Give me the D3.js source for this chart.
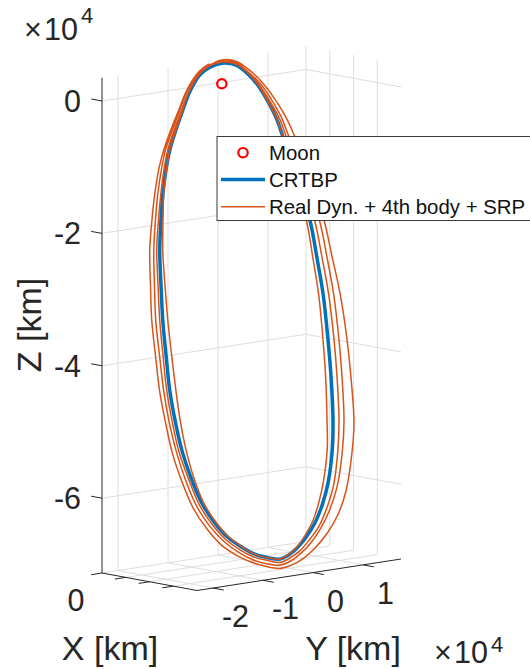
<!DOCTYPE html>
<html>
<head>
<meta charset="utf-8">
<script src="https://cdn.jsdelivr.net/npm/d3@7"></script>
<style>
  body { margin: 0; background: #ffffff; }
  svg { display: block; }
  text { font-family: "Liberation Sans", Arial, Helvetica, sans-serif; }
</style>
</head>
<body>
<svg id="chart" width="530" height="669"></svg>
<script>
// ---- Axis limits and ticks (all coordinates in units of 10^4 km) ----
const xLimits = [0, 2];
const yLimits = [-2.32, 1.76];
const zLimits = [-7.13, 0.35];
const xTicks = [0, 0.5, 1, 1.5];
const xTickLabels = ["0", "", "", ""];
const yTicks = [-2, -1, 0, 1];
const yTickLabels = ["-2", "-1", "0", "1"];
const zTicks = [-6, -4, -2, 0];
const zTickLabels = ["-6", "-4", "-2", "0"];

// ---- Moon position ----
const moonX = [0.08];
const moonY = [0];
const moonZ = [0];

// ---- CRTBP halo orbit (one closed revolution) ----
const crtbpX = [0, 0, 0.05, 0.1, 0.2, 0.3, 0.4, 0.5, 0.6, 0.7, 0.8, 0.9, 1.0, 1.1, 1.2, 1.3,
  1.4, 1.5, 1.6, 1.7, 1.8, 1.9, 2.0, 2.0, 1.9, 1.8, 1.7, 1.6, 1.5, 1.4, 1.3, 1.2, 1.1, 1.0,
  0.9, 0.8, 0.7, 0.6, 0.5, 0.4, 0.3, 0.2, 0.15, 0.1, 0.05, 0];
const crtbpY = [0.08, 0.36, 0.55, 0.71, 0.79, 0.88, 0.92, 1.01, 1.09, 1.18, 1.22, 1.25, 1.25,
  1.22, 1.16, 1.05, 0.87, 0.66, 0.42, 0.15, -0.13, -0.39, -0.66, -0.90, -1.07, -1.23, -1.42,
  -1.60, -1.75, -1.87, -1.96, -2.00, -2.01, -1.99, -1.96, -1.90, -1.83, -1.71, -1.58, -1.42,
  -1.25, -1.05, -0.88, -0.66, -0.41, -0.16];
const crtbpZ = [0.29, 0.23, 0.08, -0.11, -0.32, -0.59, -0.87, -1.29, -1.71, -2.14, -2.68,
  -3.23, -3.89, -4.48, -5.07, -5.49, -5.96, -6.25, -6.48, -6.65, -6.77, -6.83, -6.85, -6.80,
  -6.74, -6.63, -6.47, -6.23, -5.94, -5.56, -5.14, -4.70, -4.26, -3.74, -3.23, -2.72, -2.22,
  -1.79, -1.44, -1.09, -0.83, -0.60, -0.36, -0.04, 0.18, 0.26];

// ---- Real dynamics + 4th body + SRP (four consecutive revolutions) ----
const realRevX = [0, 0, 0.05, 0.1, 0.2, 0.3, 0.4, 0.5, 0.6, 0.7, 0.8, 0.9, 1.0, 1.1, 1.2, 1.3,
  1.4, 1.5, 1.6, 1.7, 1.8, 1.9, 2.0, 2.0, 1.9, 1.8, 1.7, 1.6, 1.5, 1.4, 1.3, 1.2, 1.1, 1.0,
  0.9, 0.8, 0.7, 0.6, 0.5, 0.4, 0.3, 0.2, 0.15, 0.1, 0.05, 0];
const real1Y = [0.08, 0.37, 0.56, 0.72, 0.79, 0.88, 0.92, 0.98, 1.03, 1.11, 1.14, 1.16, 1.15,
  1.11, 1.04, 0.95, 0.78, 0.59, 0.38, 0.13, -0.14, -0.39, -0.66, -0.90, -1.07, -1.23, -1.41,
  -1.58, -1.72, -1.82, -1.88, -1.90, -1.89, -1.88, -1.86, -1.82, -1.77, -1.67, -1.56, -1.41,
  -1.25, -1.05, -0.88, -0.67, -0.42, -0.17];
const real1Z = [0.31, 0.25, 0.09, -0.11, -0.32, -0.59, -0.87, -1.29, -1.72, -2.14, -2.68,
  -3.22, -3.88, -4.46, -5.05, -5.46, -5.92, -6.21, -6.44, -6.62, -6.76, -6.82, -6.85, -6.80,
  -6.74, -6.62, -6.46, -6.22, -5.93, -5.55, -5.13, -4.70, -4.26, -3.74, -3.24, -2.73, -2.23,
  -1.80, -1.44, -1.09, -0.83, -0.60, -0.36, -0.03, 0.19, 0.28];
const real2Y = [0.08, 0.37, 0.56, 0.73, 0.82, 0.93, 0.98, 1.08, 1.17, 1.27, 1.32, 1.36, 1.37,
  1.34, 1.28, 1.16, 0.98, 0.75, 0.50, 0.20, -0.09, -0.37, -0.66, -0.91, -1.09, -1.26, -1.46,
  -1.65, -1.80, -1.92, -2.02, -2.06, -2.07, -2.05, -2.02, -1.96, -1.89, -1.76, -1.62, -1.46,
  -1.29, -1.08, -0.90, -0.67, -0.42, -0.17];
const real2Z = [0.31, 0.24, 0.09, -0.10, -0.31, -0.58, -0.86, -1.28, -1.70, -2.14, -2.68,
  -3.24, -3.90, -4.50, -5.09, -5.53, -6.01, -6.31, -6.54, -6.71, -6.83, -6.88, -6.90, -6.84,
  -6.78, -6.67, -6.50, -6.25, -5.96, -5.57, -5.15, -4.70, -4.26, -3.74, -3.23, -2.71, -2.21,
  -1.78, -1.43, -1.08, -0.82, -0.59, -0.35, -0.03, 0.19, 0.28];
const real3Y = [0.08, 0.37, 0.57, 0.76, 0.86, 0.97, 1.03, 1.14, 1.24, 1.36, 1.42, 1.46, 1.47,
  1.44, 1.38, 1.25, 1.05, 0.81, 0.54, 0.24, -0.07, -0.36, -0.66, -0.92, -1.11, -1.28, -1.49,
  -1.69, -1.85, -1.98, -2.07, -2.12, -2.13, -2.12, -2.10, -2.03, -1.95, -1.82, -1.68, -1.51,
  -1.33, -1.11, -0.93, -0.70, -0.43, -0.17];
const real3Z = [0.32, 0.26, 0.10, -0.09, -0.30, -0.57, -0.86, -1.27, -1.69, -2.13, -2.69,
  -3.25, -3.92, -4.51, -5.11, -5.55, -6.04, -6.34, -6.57, -6.75, -6.87, -6.93, -6.94, -6.89,
  -6.82, -6.71, -6.53, -6.28, -5.98, -5.58, -5.15, -4.70, -4.26, -3.73, -3.22, -2.71, -2.21,
  -1.77, -1.42, -1.07, -0.80, -0.57, -0.33, -0.01, 0.21, 0.29];
const real4Y = [0.08, 0.38, 0.60, 0.79, 0.91, 1.04, 1.13, 1.24, 1.34, 1.45, 1.52, 1.59, 1.63,
  1.62, 1.58, 1.44, 1.23, 0.97, 0.66, 0.32, -0.02, -0.34, -0.66, -0.93, -1.12, -1.32, -1.54,
  -1.75, -1.92, -2.05, -2.15, -2.19, -2.21, -2.20, -2.18, -2.11, -2.03, -1.89, -1.74, -1.56,
  -1.36, -1.14, -0.95, -0.71, -0.44, -0.18];
const real4Z = [0.34, 0.28, 0.12, -0.07, -0.28, -0.55, -0.84, -1.26, -1.68, -2.13, -2.69,
  -3.26, -3.93, -4.54, -5.15, -5.61, -6.12, -6.44, -6.67, -6.84, -6.95, -6.99, -6.99, -6.93,
  -6.86, -6.75, -6.58, -6.31, -6.00, -5.60, -5.16, -4.71, -4.26, -3.73, -3.21, -2.70, -2.20,
  -1.76, -1.41, -1.05, -0.79, -0.56, -0.32, 0.00, 0.22, 0.31];

const legendLabels = ["Moon", "CRTBP", "Real Dyn. + 4th body + SRP"];

// ---- Colours ----
const axisColor = "#262626";
const gridColor = "#dedede";
const blue = "#0072BD";
const orange = "#D95319";
const moonColor = "#FF0000";

// ---- Oblique 3-D projection built on linear scales ----
const fx = d3.scaleLinear().domain(xLimits).range([0, 1]);
const fy = d3.scaleLinear().domain(yLimits).range([0, 1]);
const fz = d3.scaleLinear().domain(zLimits).range([0, 1]);
const origin = [102, 573];        // screen point of (xmin, ymin, zmin)
const edgeX = [95, 17.5];         // screen vector spanning the x range
const edgeY = [204, -31.5];       // screen vector spanning the y range
const edgeZ = [0, -495.2];        // screen vector spanning the z range

function proj(x, y, z) {
  const a = fx(x), b = fy(y), c = fz(z);
  return [origin[0] + a * edgeX[0] + b * edgeY[0] + c * edgeZ[0],
          origin[1] + a * edgeX[1] + b * edgeY[1] + c * edgeZ[1]];
}
function unit(v) { const n = Math.hypot(v[0], v[1]); return [v[0] / n, v[1] / n]; }
const ux = unit(edgeX), uy = unit(edgeY);

const svg = d3.select("#chart");
const [x0, x1] = xLimits, [y0, y1] = yLimits, [z0, z1] = zLimits;

// ---- Grid on the three back planes ----
const gridSegs = [];
yTicks.forEach(y => gridSegs.push([[x0, y, z0], [x0, y, z1]]));   // back-left wall
zTicks.forEach(z => gridSegs.push([[x0, y0, z], [x0, y1, z]]));
xTicks.forEach(x => gridSegs.push([[x, y1, z0], [x, y1, z1]]));   // back-right wall
zTicks.forEach(z => gridSegs.push([[x0, y1, z], [x1, y1, z]]));
xTicks.forEach(x => gridSegs.push([[x, y0, z0], [x, y1, z0]]));   // floor
yTicks.forEach(y => gridSegs.push([[x0, y, z0], [x1, y, z0]]));

svg.append("g").selectAll("line").data(gridSegs).join("line")
  .attr("x1", d => proj(...d[0])[0]).attr("y1", d => proj(...d[0])[1])
  .attr("x2", d => proj(...d[1])[0]).attr("y2", d => proj(...d[1])[1])
  .attr("stroke", gridColor).attr("stroke-width", 1);

// ---- Axis lines ----
const axisSegs = [
  [[x0, y0, z0], [x0, y0, z1]],
  [[x0, y0, z0], [x1, y0, z0]],
  [[x1, y0, z0], [x1, y1, z0]]
];
svg.append("g").selectAll("line").data(axisSegs).join("line")
  .attr("x1", d => proj(...d[0])[0]).attr("y1", d => proj(...d[0])[1])
  .attr("x2", d => proj(...d[1])[0]).attr("y2", d => proj(...d[1])[1])
  .attr("stroke", axisColor).attr("stroke-width", 1);

// ---- Tick marks ----
const tickLen = 11;
const tickSegs = [];
zTicks.forEach(z => { const p = proj(x0, y0, z); tickSegs.push([p, [p[0] - ux[0] * tickLen, p[1] - ux[1] * tickLen]]); });
xTicks.forEach(x => { const p = proj(x, y0, z0); tickSegs.push([p, [p[0] - uy[0] * tickLen, p[1] - uy[1] * tickLen]]); });
yTicks.forEach(y => { const p = proj(x1, y, z0); tickSegs.push([p, [p[0] + ux[0] * tickLen, p[1] + ux[1] * tickLen]]); });
svg.append("g").selectAll("line").data(tickSegs).join("line")
  .attr("x1", d => d[0][0]).attr("y1", d => d[0][1])
  .attr("x2", d => d[1][0]).attr("y2", d => d[1][1])
  .attr("stroke", axisColor).attr("stroke-width", 1);

// ---- Tick labels ----
const tickFont = 30.5;
const tl = svg.append("g").attr("fill", axisColor).attr("font-size", tickFont);
zTicks.forEach((z, i) => {
  const p = proj(x0, y0, z);
  tl.append("text").attr("x", p[0] - 21).attr("y", p[1] + 10.8)
    .attr("text-anchor", "end").text(zTickLabels[i]);
});
xTicks.forEach((x, i) => {
  if (!xTickLabels[i]) return;
  const p = proj(x, y0, z0);
  tl.append("text").attr("x", p[0] - 26).attr("y", p[1] + 38)
    .attr("text-anchor", "middle").text(xTickLabels[i]);
});
yTicks.forEach((y, i) => {
  const p = proj(x1, y, z0);
  tl.append("text").attr("x", p[0] + 22.5).attr("y", p[1] + 39)
    .attr("text-anchor", "middle").text(yTickLabels[i]);
});

// ---- Exponent markers ----
function exponent(x, y, rise) {
  const t = svg.append("text").attr("fill", axisColor).attr("font-size", tickFont).attr("y", y);
  t.append("tspan").attr("x", x).text("\u00d7");
  t.append("tspan").attr("x", x + 20).text("10");
  t.append("tspan").attr("x", x + 57).attr("dy", -rise).attr("font-size", 22).text("4");
}
exponent(24, 39.5, 17);
exponent(434, 663, 11.5);

// ---- Axis labels ----
const labelFont = 34;
svg.append("text").attr("fill", axisColor).attr("font-size", labelFont)
  .attr("text-anchor", "middle").attr("transform", "translate(41,325) rotate(-90)")
  .text("Z [km]");
svg.append("text").attr("fill", axisColor).attr("font-size", labelFont)
  .attr("text-anchor", "middle").attr("x", 110).attr("y", 660).text("X [km]");
svg.append("text").attr("fill", axisColor).attr("font-size", labelFont)
  .attr("text-anchor", "middle").attr("x", 353).attr("y", 660).text("Y [km]");

// ---- Orbits ----
const crtbpPts = crtbpX.map((x, i) => proj(x, crtbpY[i], crtbpZ[i]));
svg.append("path")
  .attr("d", d3.line().curve(d3.curveCatmullRomClosed)(crtbpPts))
  .attr("fill", "none").attr("stroke", blue).attr("stroke-width", 3.5)
  .attr("stroke-linejoin", "round");

const revs = [[real1Y, real1Z], [real2Y, real2Z], [real3Y, real3Z], [real4Y, real4Z]];
const realPts = [];
revs.forEach(([ys, zs]) => realRevX.forEach((x, i) => realPts.push(proj(x, ys[i], zs[i]))));
svg.append("path")
  .attr("d", d3.line().curve(d3.curveCatmullRom)(realPts))
  .attr("fill", "none").attr("stroke", orange).attr("stroke-width", 1.5)
  .attr("stroke-linejoin", "round");

// ---- Moon marker ----
svg.append("g").selectAll("circle").data(moonX).join("circle")
  .attr("cx", (d, i) => proj(d, moonY[i], moonZ[i])[0])
  .attr("cy", (d, i) => proj(d, moonY[i], moonZ[i])[1])
  .attr("r", 4.7).attr("fill", "none").attr("stroke", moonColor).attr("stroke-width", 2.2);

// ---- Legend ----
const lg = svg.append("g");
lg.append("rect").attr("x", 217).attr("y", 136.5).attr("width", 330).attr("height", 84)
  .attr("fill", "#ffffff").attr("stroke", "#3a3a3a").attr("stroke-width", 1);
const rowY = [152.7, 179.6, 206.7];
lg.append("circle").attr("cx", 243).attr("cy", rowY[0]).attr("r", 4.7)
  .attr("fill", "none").attr("stroke", moonColor).attr("stroke-width", 2.2);
lg.append("line").attr("x1", 221).attr("x2", 265).attr("y1", rowY[1]).attr("y2", rowY[1])
  .attr("stroke", blue).attr("stroke-width", 3.5);
lg.append("line").attr("x1", 221).attr("x2", 265).attr("y1", rowY[2]).attr("y2", rowY[2])
  .attr("stroke", orange).attr("stroke-width", 1.5);
lg.selectAll("text.lbl").data(legendLabels).join("text").attr("class", "lbl")
  .attr("x", 269).attr("y", (d, i) => rowY[i] + 7.7)
  .attr("font-size", 20.4).attr("fill", "#111111").text(d => d);
</script>
</body>
</html>
